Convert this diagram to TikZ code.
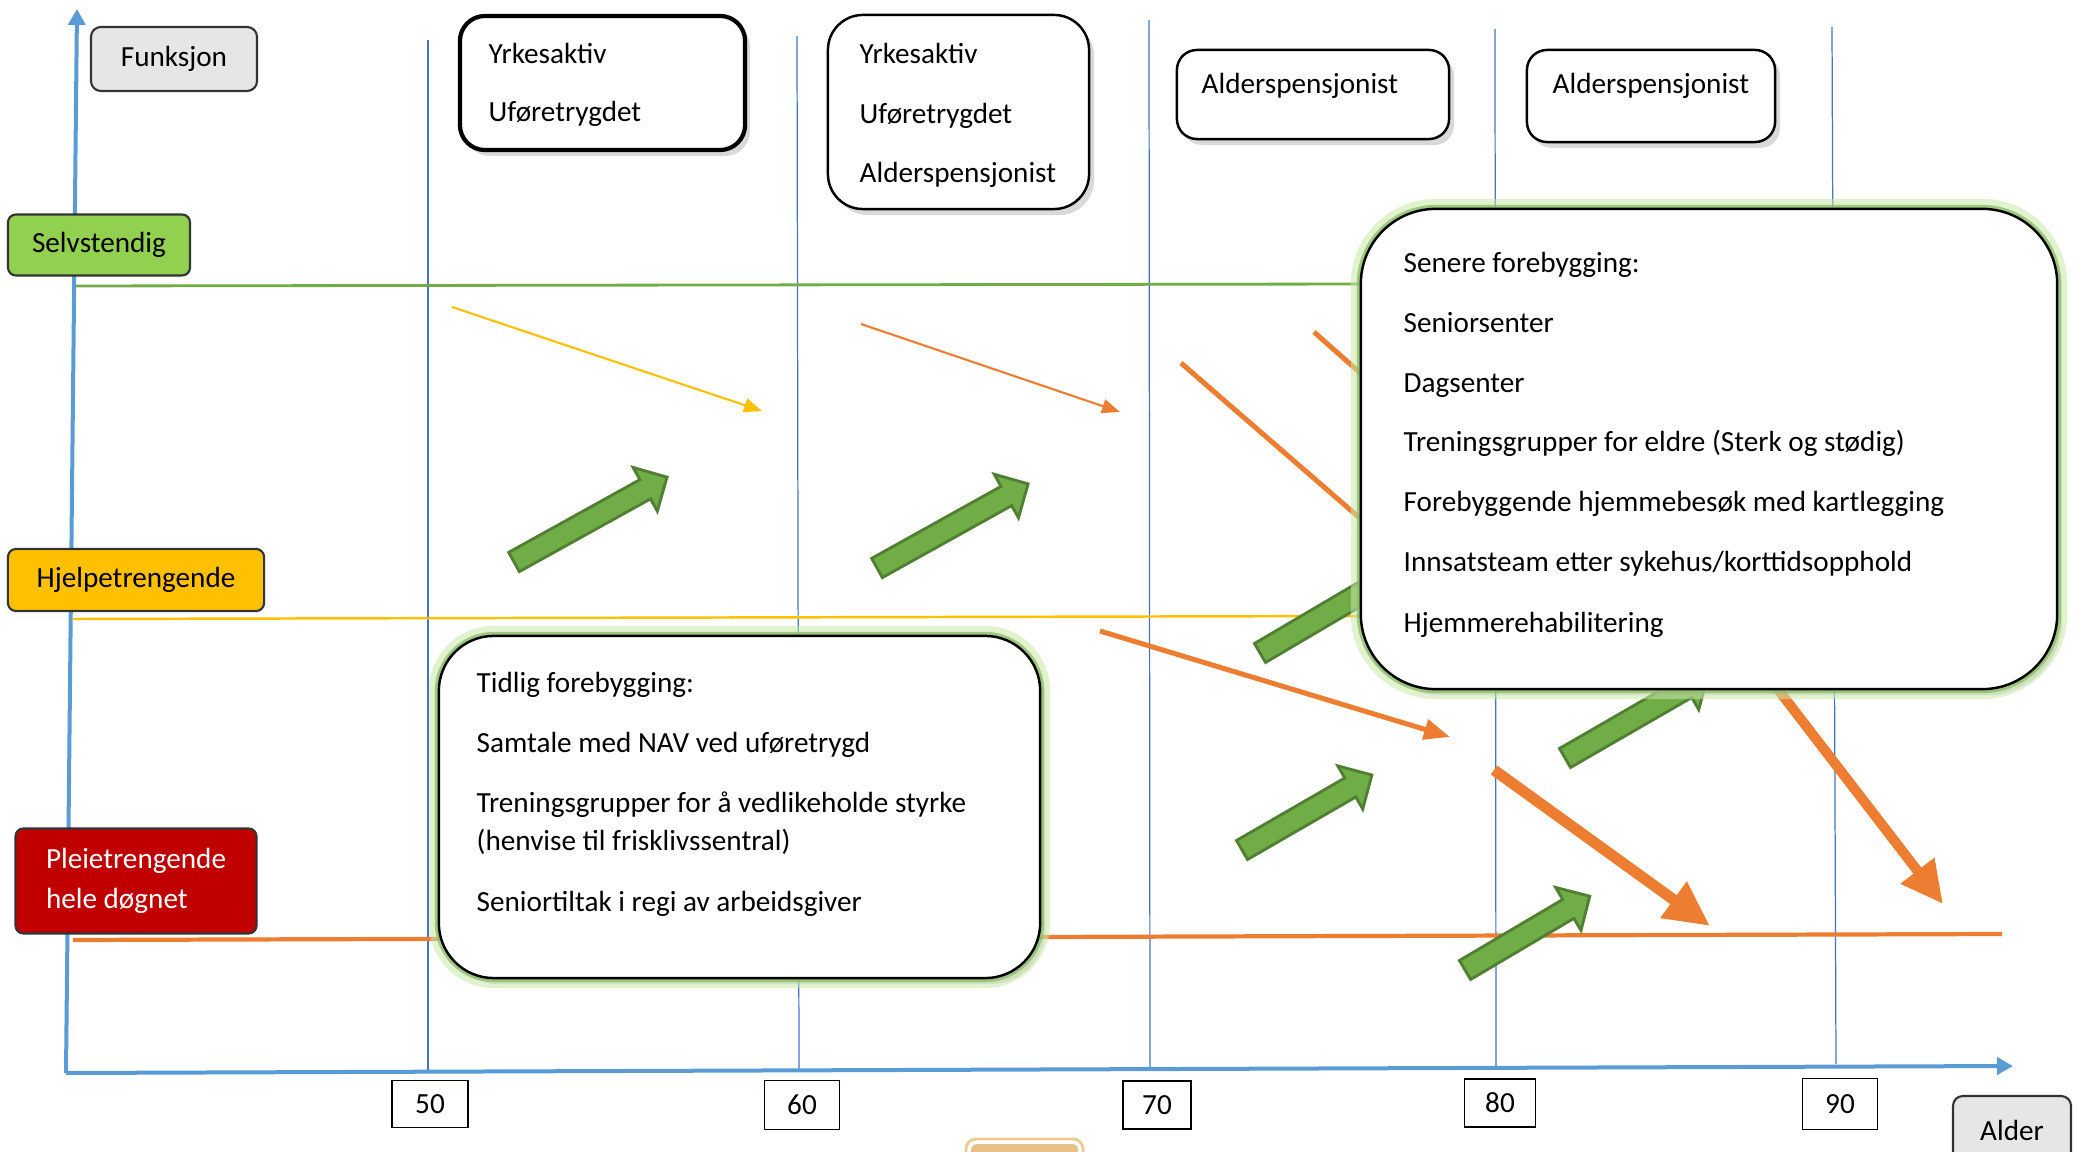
\documentclass[tikz,border=0pt]{standalone}
\usepackage{fontspec}
\setmainfont{Carlito}
\usetikzlibrary{arrows.meta,shadows}

\definecolor{axisblue}{HTML}{5B9BD5}
\definecolor{gridblue}{HTML}{4472C4}
\definecolor{lvlgreen}{HTML}{70AD47}
\definecolor{selvgreen}{HTML}{92D050}
\definecolor{hjelpyellow}{HTML}{FFC000}
\definecolor{pleiered}{HTML}{C00000}
\definecolor{trendorange}{HTML}{ED7D31}
\definecolor{boxgray}{HTML}{E7E6E6}
\definecolor{arrowgreen}{HTML}{70AD47}
\definecolor{arrowedge}{HTML}{507E32}
\definecolor{tanfill}{HTML}{E8BF85}
\definecolor{tanedge}{HTML}{F0C98F}

\tikzset{
  pics/blockarrow/.style={code={
    \draw[fill=arrowgreen, draw=arrowedge, line width=0.8pt, line join=miter]
      (0,-11) -- ({#1-25},-11) -- ({#1-25},-25) -- (#1,0) -- ({#1-25},25) -- ({#1-25},11) -- (0,11) -- cycle;}}
}

\begin{document}
\begin{tikzpicture}[x=0.01cm, y=-0.01cm,
  every node/.style={font=\fontsize{8.3}{11.2}\selectfont},
  lbl/.style={anchor=west, inner sep=0pt, text height=1.5ex, text depth=.25ex},
  agegrid/.style={gridblue, line width=0.35pt},
  ageaxis/.style={axisblue, line width=0.04cm, -{Triangle[length=0.16cm, width=0.17cm]}},
  lvlbox/.style={draw=black!80, line width=0.6pt, rounded corners=0.08cm, inner sep=0pt},
  graybox/.style={lvlbox, fill=boxgray, rounded corners=0.1cm},
  tickbox/.style={draw=black, line width=0.5pt, fill=white, inner sep=0pt},
  infobox/.style={draw=black, fill=white, line width=0.7pt, inner sep=0pt,
    drop shadow={shadow xshift=0.05cm, shadow yshift=-0.06cm, opacity=0.3}},
  glowbox/.style={infobox,
    preaction={draw=selvgreen!50, line width=0.2cm, opacity=0.55},
    preaction={draw=lvlgreen!80, line width=0.08cm, opacity=0.8}},
  trend/.style={trendorange, line width=0.05cm},
]
\useasboundingbox (0,0) rectangle (2078,1152);
\clip (0,0) rectangle (2078,1152);

	% age lines
	\draw [agegrid] (428,40) -- (428,1073);
	\draw [agegrid] (797,36) -- (799,1071);
	\draw [agegrid] (1149,20) -- (1150,1068);
	\draw [agegrid] (1495,29) -- (1496,1067);
	\draw [agegrid] (1832,27) -- (1836,1064);

	% level lines
	\draw [lvlgreen, line width=0.8pt] (73,286) -- (1370,284);
	\draw [hjelpyellow, line width=0.7pt] (73,619) -- (1370,616);
	\draw [trendorange, line width=1.2pt] (73,940) -- (2002,934);

	% axes
	\draw [ageaxis] (66,1073) -- (2013,1066);
	\draw [ageaxis] (66,1073) -- (77,9);

	% thin trend arrows
	\draw [hjelpyellow, line width=0.6pt, -{Triangle[length=0.18cm, width=0.14cm]}] (452,307) -- (762,411);
	\draw [trendorange, line width=0.6pt, -{Triangle[length=0.18cm, width=0.14cm]}] (861,324) -- (1120,412);

	% orange trend arrows
	\draw [trend] (1181,363) -- (1460,605);
	\draw [trend] (1314,332) -- (1420,426);
	\draw [trend, -{Triangle[length=0.26cm, width=0.2cm]}] (1100,631) -- (1450,737);
	\draw [trend, line width=0.11cm, -{Triangle[length=0.45cm, width=0.42cm]}] (1494,770) -- (1710,926);
	\draw [trend, line width=0.1cm, -{Triangle[length=0.42cm, width=0.4cm]}] (1700,588) -- (1943,904);

	% green arrows
	\pic [rotate=29] at (514,562) {blockarrow=175};
	\pic [rotate=29.1] at (877,568) {blockarrow=173};
	\pic [rotate=30.5] at (1260,653) {blockarrow=175};
	\pic [rotate=30] at (1242,850) {blockarrow=150};
	\pic [rotate=30] at (1565,758) {blockarrow=165};
	\pic [rotate=30.6] at (1465,970) {blockarrow=145};

	% boxes
	\node [glowbox, rounded corners=0.55cm, minimum width=6.01cm, minimum height=3.42cm] (tidlig) at (739.5,807) {};
	\node [glowbox, rounded corners=0.75cm, minimum width=6.96cm, minimum height=4.80cm] (senere) at (1709,449) {};
	\node [infobox, line width=1.2pt, rounded corners=0.25cm, minimum width=2.85cm, minimum height=1.34cm] (yrkeA) at (602.5,83) {};
	\node [infobox, rounded corners=0.35cm, minimum width=2.61cm, minimum height=1.94cm] (yrkeB) at (958.5,112) {};
	\node [infobox, rounded corners=0.2cm, minimum width=2.72cm, minimum height=0.89cm] (alderA) at (1313,94.5) {};
	\node [infobox, rounded corners=0.2cm, minimum width=2.48cm, minimum height=0.92cm] (alderB) at (1651,96) {};

	% bottom piece
	\draw [tanedge, line width=0.8pt, rounded corners=0.1cm] (966,1139) rectangle (1083,1200);
	\fill [tanfill, rounded corners=0.06cm] (971,1144) rectangle (1078,1200);

	% level labels
	\node [graybox, minimum width=1.66cm, minimum height=0.64cm] (funksjon) at (174,59) {Funksjon};
	\node [lvlbox, fill=selvgreen, minimum width=1.82cm, minimum height=0.61cm] (selv) at (99,245) {Selvstendig};
	\node [lvlbox, fill=hjelpyellow, minimum width=2.56cm, minimum height=0.62cm] (hjelp) at (136,580) {Hjelpetrengende};
	\node [lvlbox, fill=pleiered, text=white, align=left, minimum width=2.41cm, minimum height=1.05cm] (pleie) at (136,881) {Pleietrengende\\hele døgnet};
	\node [graybox, minimum width=1.18cm, minimum height=0.68cm] (alder) at (2012,1130) {Alder};

	% ages
	\node [tickbox, minimum width=0.76cm, minimum height=0.47cm] (a50) at (430,1104) {50};
	\node [tickbox, minimum width=0.75cm, minimum height=0.49cm] (a60) at (802,1105) {60};
	\node [tickbox, minimum width=0.68cm, minimum height=0.48cm] (a70) at (1157,1105) {70};
	\node [tickbox, minimum width=0.71cm, minimum height=0.48cm] (a80) at (1500,1103) {80};
	\node [tickbox, minimum width=0.75cm, minimum height=0.51cm] (a90) at (1840,1104) {90};

	% label
	\node [lbl] (yrkeA1) at (488,53) {Yrkesaktiv};
	\node [lbl] (yrkeA2) at (488,111) {Uføretrygdet};

	\node [lbl] (yrkeB1) at (859,53) {Yrkesaktiv};
	\node [lbl] (yrkeB2) at (859,113) {Uføretrygdet};
	\node [lbl] (yrkeB3) at (859,172) {Alderspensjonist};

	\node [lbl] (alderA1) at (1201,83) {Alderspensjonist};
	\node [lbl] (alderB1) at (1552,83) {Alderspensjonist};

	\node [lbl] (tidlig1) at (476,682) {Tidlig forebygging:};
	\node [lbl] (tidlig2) at (476,742) {Samtale med NAV ved uføretrygd};
	\node [lbl] (tidlig3) at (476,802) {Treningsgrupper for å vedlikeholde styrke};
	\node [lbl] (tidlig4) at (476,840) {(henvise til frisklivssentral)};
	\node [lbl] (tidlig5) at (476,901) {Seniortiltak i regi av arbeidsgiver};

	\node [lbl] (senere1) at (1403,262) {Senere forebygging:};
	\node [lbl] (senere2) at (1403,322) {Seniorsenter};
	\node [lbl] (senere3) at (1403,382) {Dagsenter};
	\node [lbl] (senere4) at (1403,441) {Treningsgrupper for eldre (Sterk og stødig)};
	\node [lbl] (senere5) at (1403,501) {Forebyggende hjemmebesøk med kartlegging};
	\node [lbl] (senere6) at (1403,561) {Innsatsteam etter sykehus/korttidsopphold};
	\node [lbl] (senere7) at (1403,622) {Hjemmerehabilitering};
\end{tikzpicture}
\end{document}
